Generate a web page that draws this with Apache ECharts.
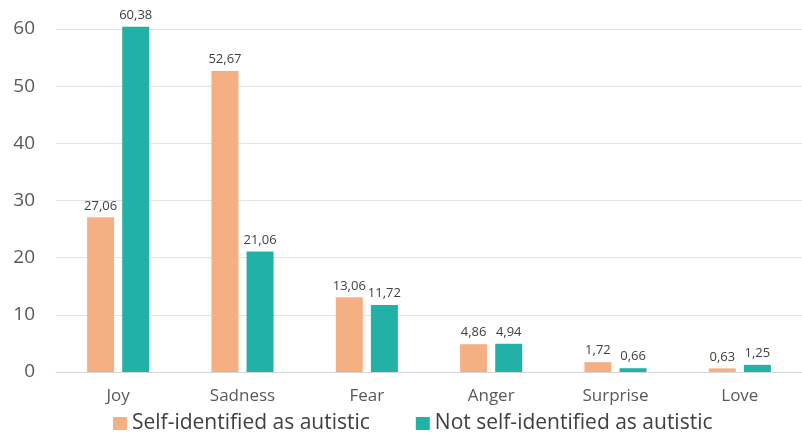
<!DOCTYPE html>
<html>
<head>
<meta charset="utf-8">
<script src="https://cdn.jsdelivr.net/npm/echarts@6/dist/echarts.min.js"></script>
<style>
html,body{margin:0;padding:0;background:#fff;}
#chart{width:802px;height:434px;}
</style>
</head>
<body>
<div id="chart"></div>
<script>
const categories = ["Joy", "Sadness", "Fear", "Anger", "Surprise", "Love"];
const selfIdentified = [27.06, 52.67, 13.06, 4.86, 1.72, 0.63];
const notSelfIdentified = [60.38, 21.06, 11.72, 4.94, 0.66, 1.25];
const seriesNames = ["Self-identified as autistic", "Not self-identified as autistic"];
const yTicks = [0, 10, 20, 30, 40, 50, 60];

const fontFamily = '"Open Sans", "Noto Sans", sans-serif';
const chart = echarts.init(document.getElementById('chart'), null, {renderer: 'canvas'});
const labelCfg = {
  show: true,
  position: 'top',
  distance: 5,
  fontSize: 13,
  color: '#404040',
  fontFamily: fontFamily,
  formatter: p => p.value.toFixed(2).replace('.', ',')
};
chart.setOption({
  animation: false,
  backgroundColor: '#ffffff',
  grid: {left: 56, right: -5, top: 29, bottom: 62},
  legend: {
    left: 108, top: 413, padding: [0, 5],
    itemWidth: 14, itemHeight: 13, itemGap: 46,
    icon: 'rect',
    textStyle: {fontSize: 21, color: '#404040', fontFamily: fontFamily},
    data: seriesNames
  },
  xAxis: {
    type: 'category',
    data: categories,
    axisLine: {show: true, lineStyle: {color: '#d9d9d9'}},
    axisTick: {show: false},
    axisLabel: {fontSize: 17, color: '#595959', margin: 16, fontFamily: fontFamily}
  },
  yAxis: {
    type: 'value',
    min: yTicks[0], max: yTicks[yTicks.length - 1], interval: 10,
    axisLine: {show: false},
    axisTick: {show: false},
    axisLabel: {fontSize: 19, color: '#595959', margin: 21, fontFamily: fontFamily},
    splitLine: {lineStyle: {color: '#e3e3e3', width: 1}}
  },
  series: [
    {name: seriesNames[0], type: 'bar', data: selfIdentified, barWidth: 27, barGap: '30%',
     itemStyle: {color: '#F4AF82'}, label: labelCfg, clip: false},
    {name: seriesNames[1], type: 'bar', data: notSelfIdentified, barWidth: 27, barGap: '30%',
     itemStyle: {color: '#22B1A7'}, label: labelCfg, clip: false}
  ]
});
</script>
</body>
</html>
